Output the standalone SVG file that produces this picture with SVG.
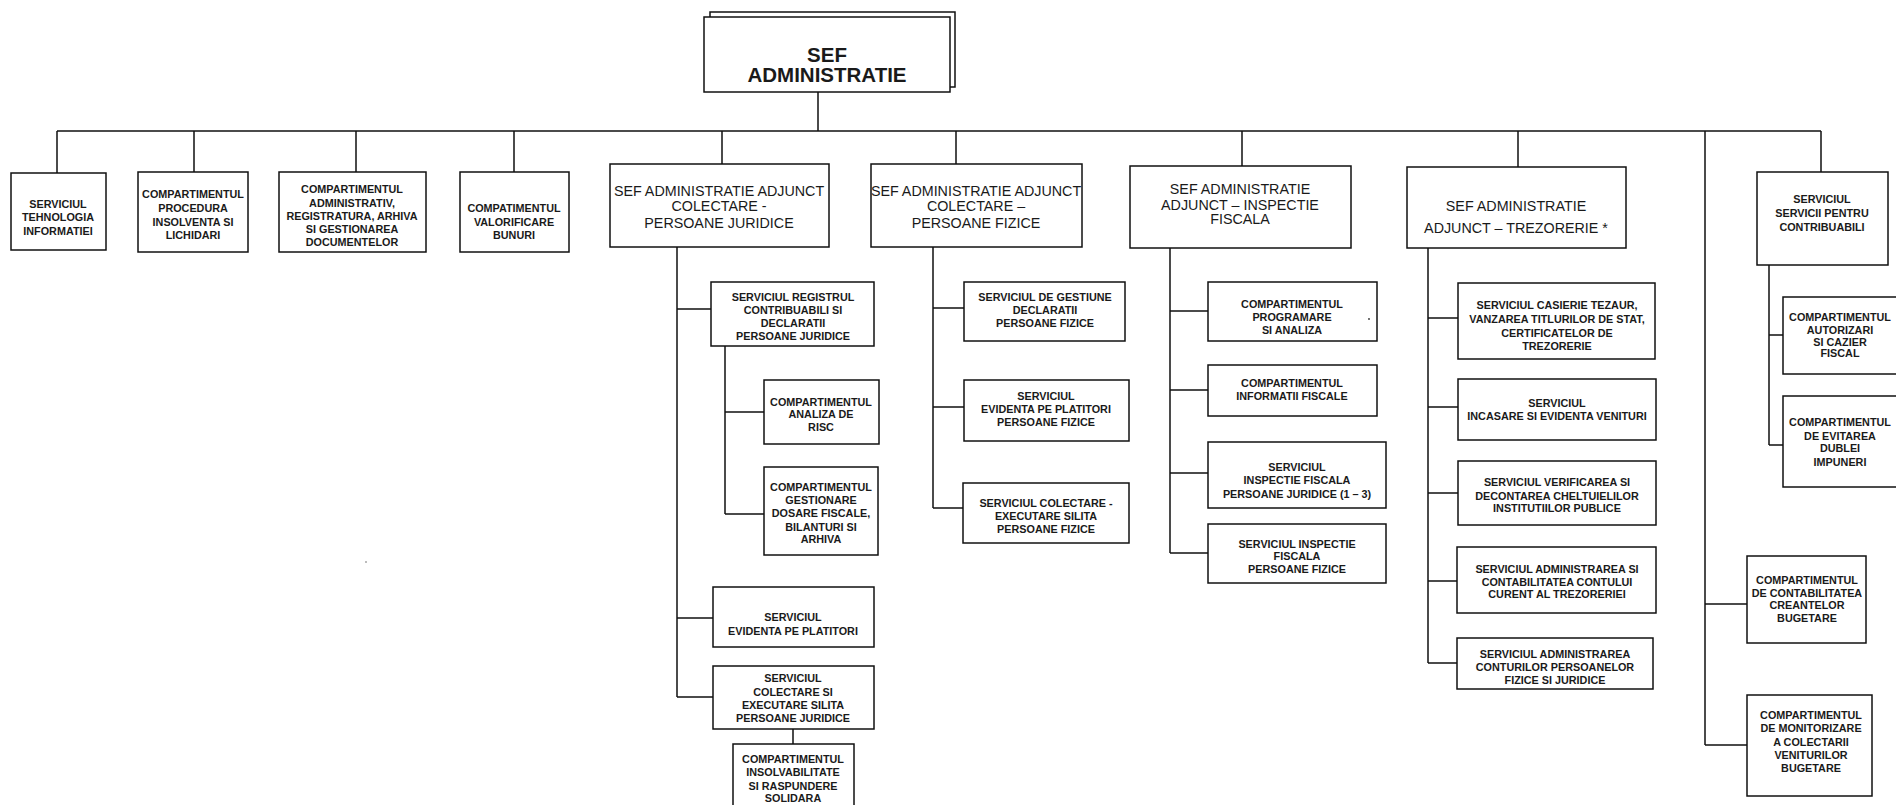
<svg xmlns="http://www.w3.org/2000/svg" width="1896" height="805" viewBox="0 0 1896 805">
<style>
.b{fill:#fff;stroke:#111;stroke-width:1.5}
.c{fill:none;stroke:#111;stroke-width:1.5}
.s{font-family:"Liberation Sans",Arial,sans-serif;font-size:10.8px;font-weight:bold;fill:#1a1a1a;text-anchor:middle}
.m{font-family:"Liberation Sans",Arial,sans-serif;font-size:14.3px;fill:#1a1a1a;text-anchor:middle}
.t{font-family:"Liberation Sans",Arial,sans-serif;font-size:20.5px;font-weight:bold;fill:#1a1a1a;text-anchor:middle}
</style>
<rect width="1896" height="805" fill="#fff"/>
<g id="connectors">
<path class="c" d="M818 92V131M57 131H1821M57 131V173M194 131V172M356 131V172M514 131V172M722 131V164M956 131V164M1242 131V166M1518 131V167M1821 131V172M1705 131V745"/>
<path class="c" d="M677 247V697M677 309H711M677 618H713M677 697H713M725 346V514M725 412H764M725 514H764M793 729V744"/>
<path class="c" d="M933 247V508M933 308H964M933 407H964M933 508H963"/>
<path class="c" d="M1170 248V553M1170 311H1208M1170 390H1208M1170 473H1208M1170 553H1208"/>
<path class="c" d="M1428 248V663M1428 318H1458M1428 407H1458M1428 493H1458M1428 581H1457M1428 663H1457"/>
<path class="c" d="M1705 604H1747M1705 745H1747M1769 265V445M1769 335H1783M1769 445H1783"/>
</g>
<g id="sef-administratie">
<path class="c" d="M710 17V12H955V87H950"/>
<rect class="b" x="704" y="17" width="246" height="75"/>
<text class="t" x="827" y="62">SEF</text>
<text class="t" x="827" y="82">ADMINISTRATIE</text>
</g>
<g id="serv-tehnologia">
<rect class="b" x="11" y="173" width="95" height="77"/>
<text class="s" x="58" y="208">SERVICIUL</text>
<text class="s" x="58" y="221">TEHNOLOGIA</text>
<text class="s" x="58" y="235">INFORMATIEI</text>
</g>
<g id="comp-insolventa">
<rect class="b" x="138" y="172" width="110" height="80"/>
<text class="s" x="193" y="198">COMPARTIMENTUL</text>
<text class="s" x="193" y="212">PROCEDURA</text>
<text class="s" x="193" y="226">INSOLVENTA SI</text>
<text class="s" x="193" y="239">LICHIDARI</text>
</g>
<g id="comp-administrativ">
<rect class="b" x="279" y="172" width="147" height="80"/>
<text class="s" x="352" y="193">COMPARTIMENTUL</text>
<text class="s" x="352" y="207">ADMINISTRATIV,</text>
<text class="s" x="352" y="220">REGISTRATURA, ARHIVA</text>
<text class="s" x="352" y="233">SI GESTIONAREA</text>
<text class="s" x="352" y="246">DOCUMENTELOR</text>
</g>
<g id="comp-valorificare">
<rect class="b" x="460" y="172" width="109" height="80"/>
<text class="s" x="514" y="212">COMPATIMENTUL</text>
<text class="s" x="514" y="226">VALORIFICARE</text>
<text class="s" x="514" y="239">BUNURI</text>
</g>
<g id="adj-colectare-pj">
<rect class="b" x="610" y="164" width="219" height="83"/>
<text class="m" x="719" y="196">SEF ADMINISTRATIE ADJUNCT</text>
<text class="m" x="719" y="211">COLECTARE -</text>
<text class="m" x="719" y="228">PERSOANE JURIDICE</text>
</g>
<g id="adj-colectare-pf">
<rect class="b" x="871" y="164" width="211" height="83"/>
<text class="m" x="976" y="196">SEF ADMINISTRATIE ADJUNCT</text>
<text class="m" x="976" y="211">COLECTARE –</text>
<text class="m" x="976" y="228">PERSOANE FIZICE</text>
</g>
<g id="adj-inspectie">
<rect class="b" x="1130" y="166" width="221" height="82"/>
<text class="m" x="1240" y="194">SEF ADMINISTRATIE</text>
<text class="m" x="1240" y="210">ADJUNCT – INSPECTIE</text>
<text class="m" x="1240" y="224">FISCALA</text>
</g>
<g id="adj-trezorerie">
<rect class="b" x="1407" y="167" width="219" height="81"/>
<text class="m" x="1516" y="211">SEF ADMINISTRATIE</text>
<text class="m" x="1516" y="233">ADJUNCT – TREZORERIE *</text>
</g>
<g id="serv-contribuabili">
<rect class="b" x="1757" y="172" width="131" height="93"/>
<text class="s" x="1822" y="203">SERVICIUL</text>
<text class="s" x="1822" y="217">SERVICII PENTRU</text>
<text class="s" x="1822" y="231">CONTRIBUABILI</text>
</g>
<g id="serv-registrul">
<rect class="b" x="711" y="282" width="163" height="64"/>
<text class="s" x="793" y="301">SERVICIUL REGISTRUL</text>
<text class="s" x="793" y="314">CONTRIBUABILI SI</text>
<text class="s" x="793" y="327">DECLARATII</text>
<text class="s" x="793" y="340">PERSOANE JURIDICE</text>
</g>
<g id="comp-analiza-risc">
<rect class="b" x="764" y="380" width="115" height="64"/>
<text class="s" x="821" y="406">COMPARTIMENTUL</text>
<text class="s" x="821" y="418">ANALIZA DE</text>
<text class="s" x="821" y="431">RISC</text>
</g>
<g id="comp-gestionare-dosare">
<rect class="b" x="764" y="467" width="114" height="88"/>
<text class="s" x="821" y="491">COMPARTIMENTUL</text>
<text class="s" x="821" y="504">GESTIONARE</text>
<text class="s" x="821" y="517">DOSARE FISCALE,</text>
<text class="s" x="821" y="531">BILANTURI SI</text>
<text class="s" x="821" y="543">ARHIVA</text>
</g>
<g id="serv-evidenta-platitori">
<rect class="b" x="713" y="587" width="161" height="60"/>
<text class="s" x="793" y="621">SERVICIUL</text>
<text class="s" x="793" y="635">EVIDENTA PE PLATITORI</text>
</g>
<g id="serv-colectare-pj">
<rect class="b" x="713" y="666" width="161" height="63"/>
<text class="s" x="793" y="682">SERVICIUL</text>
<text class="s" x="793" y="696">COLECTARE SI</text>
<text class="s" x="793" y="709">EXECUTARE SILITA</text>
<text class="s" x="793" y="722">PERSOANE JURIDICE</text>
</g>
<g id="comp-insolvabilitate">
<rect class="b" x="733" y="744" width="121" height="62"/>
<text class="s" x="793" y="763">COMPARTIMENTUL</text>
<text class="s" x="793" y="776">INSOLVABILITATE</text>
<text class="s" x="793" y="790">SI RASPUNDERE</text>
<text class="s" x="793" y="802">SOLIDARA</text>
</g>
<g id="serv-gestiune-declaratii">
<rect class="b" x="964" y="282" width="161" height="59"/>
<text class="s" x="1045" y="301">SERVICIUL DE GESTIUNE</text>
<text class="s" x="1045" y="314">DECLARATII</text>
<text class="s" x="1045" y="327">PERSOANE FIZICE</text>
</g>
<g id="serv-evidenta-pf">
<rect class="b" x="964" y="380" width="165" height="61"/>
<text class="s" x="1046" y="400">SERVICIUL</text>
<text class="s" x="1046" y="413">EVIDENTA PE PLATITORI</text>
<text class="s" x="1046" y="426">PERSOANE FIZICE</text>
</g>
<g id="serv-colectare-pf">
<rect class="b" x="963" y="483" width="166" height="60"/>
<text class="s" x="1046" y="507">SERVICIUL COLECTARE -</text>
<text class="s" x="1046" y="520">EXECUTARE SILITA</text>
<text class="s" x="1046" y="533">PERSOANE FIZICE</text>
</g>
<g id="comp-programare">
<rect class="b" x="1208" y="282" width="169" height="59"/>
<text class="s" x="1292" y="308">COMPARTIMENTUL</text>
<text class="s" x="1292" y="321">PROGRAMARE</text>
<text class="s" x="1292" y="334">SI ANALIZA</text>
<circle cx="1369" cy="319" r="0.9" fill="#333"/>
</g>
<g id="comp-informatii">
<rect class="b" x="1208" y="365" width="169" height="51"/>
<text class="s" x="1292" y="387">COMPARTIMENTUL</text>
<text class="s" x="1292" y="400">INFORMATII FISCALE</text>
</g>
<g id="serv-inspectie-pj">
<rect class="b" x="1208" y="442" width="178" height="66"/>
<text class="s" x="1297" y="471">SERVICIUL</text>
<text class="s" x="1297" y="484">INSPECTIE FISCALA</text>
<text class="s" x="1297" y="498">PERSOANE JURIDICE (1 – 3)</text>
</g>
<g id="serv-inspectie-pf">
<rect class="b" x="1208" y="524" width="178" height="59"/>
<text class="s" x="1297" y="548">SERVICIUL INSPECTIE</text>
<text class="s" x="1297" y="560">FISCALA</text>
<text class="s" x="1297" y="573">PERSOANE FIZICE</text>
</g>
<g id="serv-casierie">
<rect class="b" x="1458" y="283" width="197" height="76"/>
<text class="s" x="1557" y="309">SERVICIUL CASIERIE TEZAUR,</text>
<text class="s" x="1557" y="323">VANZAREA TITLURILOR DE STAT,</text>
<text class="s" x="1557" y="337">CERTIFICATELOR DE</text>
<text class="s" x="1557" y="350">TREZORERIE</text>
</g>
<g id="serv-incasare">
<rect class="b" x="1458" y="379" width="198" height="61"/>
<text class="s" x="1557" y="407">SERVICIUL</text>
<text class="s" x="1557" y="420">INCASARE SI EVIDENTA VENITURI</text>
</g>
<g id="serv-verificarea">
<rect class="b" x="1458" y="461" width="198" height="64"/>
<text class="s" x="1557" y="486">SERVICIUL VERIFICAREA SI</text>
<text class="s" x="1557" y="500">DECONTAREA CHELTUIELILOR</text>
<text class="s" x="1557" y="512">INSTITUTIILOR PUBLICE</text>
</g>
<g id="serv-contul-curent">
<rect class="b" x="1457" y="547" width="199" height="66"/>
<text class="s" x="1557" y="573">SERVICIUL ADMINISTRAREA SI</text>
<text class="s" x="1557" y="586">CONTABILITATEA CONTULUI</text>
<text class="s" x="1557" y="598">CURENT AL TREZORERIEI</text>
</g>
<g id="serv-conturi-persoane">
<rect class="b" x="1457" y="638" width="196" height="51"/>
<text class="s" x="1555" y="658">SERVICIUL ADMINISTRAREA</text>
<text class="s" x="1555" y="671">CONTURILOR PERSOANELOR</text>
<text class="s" x="1555" y="684">FIZICE SI JURIDICE</text>
</g>
<g id="comp-autorizari">
<rect class="b" x="1783" y="297" width="120" height="77"/>
<text class="s" x="1840" y="321">COMPARTIMENTUL</text>
<text class="s" x="1840" y="334">AUTORIZARI</text>
<text class="s" x="1840" y="346">SI CAZIER</text>
<text class="s" x="1840" y="357">FISCAL</text>
</g>
<g id="comp-dubla-impunere">
<rect class="b" x="1783" y="396" width="120" height="91"/>
<text class="s" x="1840" y="426">COMPARTIMENTUL</text>
<text class="s" x="1840" y="440">DE EVITAREA</text>
<text class="s" x="1840" y="452">DUBLEI</text>
<text class="s" x="1840" y="466">IMPUNERI</text>
</g>
<g id="comp-creante">
<rect class="b" x="1747" y="556" width="119" height="87"/>
<text class="s" x="1807" y="584">COMPARTIMENTUL</text>
<text class="s" x="1807" y="597">DE CONTABILITATEA</text>
<text class="s" x="1807" y="609">CREANTELOR</text>
<text class="s" x="1807" y="622">BUGETARE</text>
</g>
<g id="comp-monitorizare">
<rect class="b" x="1747" y="695" width="125" height="101"/>
<text class="s" x="1811" y="719">COMPARTIMENTUL</text>
<text class="s" x="1811" y="732">DE MONITORIZARE</text>
<text class="s" x="1811" y="746">A COLECTARII</text>
<text class="s" x="1811" y="759">VENITURILOR</text>
<text class="s" x="1811" y="772">BUGETARE</text>
</g>
<circle cx="366" cy="562" r="0.8" fill="#666"/>
</svg>
